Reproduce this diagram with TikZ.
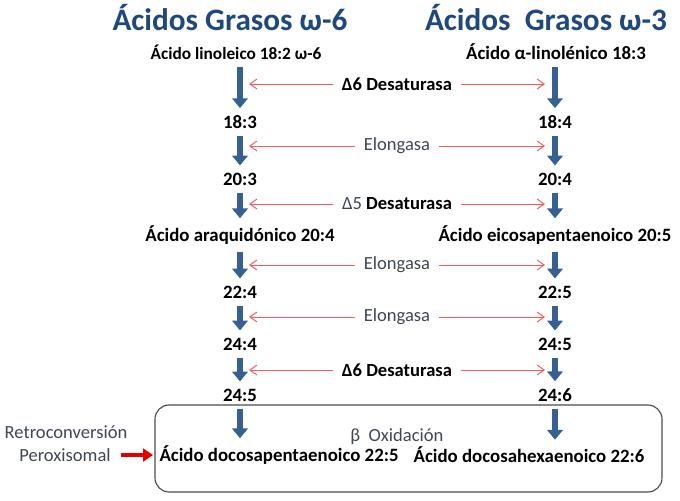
\documentclass[tikz,border=0pt]{standalone}
\usepackage{fontspec}
\setmainfont{Carlito}
\usetikzlibrary{arrows.meta}
\definecolor{titleblue}{HTML}{1F497D}
\definecolor{arrowblue}{HTML}{376092}
\definecolor{lightred}{HTML}{F25C5C}
\definecolor{labelgray}{HTML}{3F4753}
\tikzset{
  acid/.style={font=\bfseries\fontsize{13.4}{15}\selectfont, inner sep=1pt},
  enzyme/.style={font=\fontsize{13.2}{15}\selectfont, text=labelgray, inner sep=2pt},
  flow/.style={arrowblue, line width=4.4pt, -{Triangle[length=7pt,width=11pt]}, shorten <=4pt, shorten >=4pt},
  link/.style={lightred, line width=0.7pt, -{Straight Barb[length=5pt,width=7pt]}, shorten <=4pt},
}
\begin{document}
\begin{tikzpicture}[x=0.025cm, y=-0.025cm]
\useasboundingbox (0,0) rectangle (680,501);

% titles
\node[font=\bfseries\fontsize{22.2}{25}\selectfont, text=titleblue] (t6) at (230, 18) {Ácidos Grasos ω-6};
\node[font=\bfseries\fontsize{22.2}{25}\selectfont, text=titleblue] (t3) at (546, 18) {Ácidos\ \ Grasos ω-3};

% omega-6 column
\node[acid, font=\bfseries\fontsize{12.3}{14}\selectfont] (a0) at (236, 52) {Ácido linoleico 18:2 ω-6};
\node[acid] (a1) at (240, 122) {18:3};
\node[acid] (a2) at (240, 179) {20:3};
\node[acid] (a3) at (240, 235) {Ácido araquidónico 20:4};
\node[acid] (a4) at (240, 292) {22:4};
\node[acid] (a5) at (240, 344) {24:4};
\node[acid] (a6) at (240, 395) {24:5};
\node[acid] (a7) at (279, 455) {Ácido docosapentaenoico 22:5};

% omega-3 column
\node[acid] (b0) at (556, 52) {Ácido α-linolénico 18:3};
\node[acid] (b1) at (555, 122) {18:4};
\node[acid] (b2) at (555, 179) {20:4};
\node[acid] (b3) at (555, 235) {Ácido eicosapentaenoico 20:5};
\node[acid] (b4) at (555, 292) {22:5};
\node[acid] (b5) at (555, 344) {24:5};
\node[acid] (b6) at (555, 395) {24:6};
\node[acid] (b7) at (529, 455) {Ácido docosahexaenoico 22:6};

% blue steps
\foreach \i/\j in {0/1,1/2,2/3,3/4,4/5,5/6}{
  \draw[flow] (a\i.south -| a1) -- (a\j);
  \draw[flow] (b\i.south -| b1) -- (b\j);
}
\draw[flow] (a6.south) -- (a6.south |- a7.north);
\draw[flow] (b6.south) -- (b6.south |- b7.north);

% enzymes
\node[enzyme] (e1) at (397, 84) {\textcolor{black}{\bfseries Δ6 Desaturasa}};
\node[enzyme] (e2) at (397, 146) {Elongasa};
\node[enzyme] (e3) at (397, 204) {Δ5 \textcolor{black}{\bfseries Desaturasa}};
\node[enzyme] (e4) at (397, 265) {Elongasa};
\node[enzyme] (e5) at (397, 317) {Elongasa};
\node[enzyme] (e6) at (397, 370) {\textcolor{black}{\bfseries Δ6 Desaturasa}};

\foreach \k/\y in {1/84,2/146,3/204,4/265,5/317,6/370}{
  \coordinate (l\k) at (249, \y);
  \coordinate (r\k) at (545, \y);
  \draw[link] (e\k.west) -- (l\k);
  \draw[link] (e\k.east) -- (r\k);
}

% beta oxidation box
\draw[rounded corners=10pt, line width=0.8pt, draw=black!70] (155, 405) rectangle (662, 492);
\node[enzyme] (box) at (397, 437) {β\ \ Oxidación};

% retroconversion
\node[enzyme] (retro) at (66, 432) {Retroconversión};
\node[enzyme] (perox) at (65, 455) {Peroxisomal};
\coordinate (rin) at (153, 455);
\draw[red!90!black, line width=2.6pt, -{Triangle[length=7pt,width=9pt]}, shorten <=5pt] (perox.east) -- (rin);

\end{tikzpicture}
\end{document}
